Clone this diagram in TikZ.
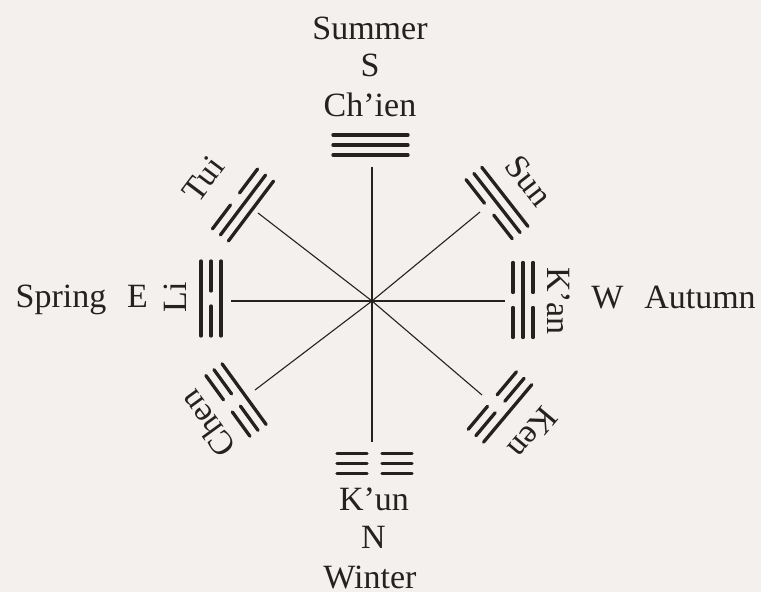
\documentclass[tikz,border=0pt]{standalone}
\usepackage{fontspec}
\setmainfont{Liberation Serif}
\definecolor{ink}{RGB}{38,33,33}
\definecolor{paper}{RGB}{243,240,238}
\tikzset{
  tri/.style={draw=ink, line width=3.3pt, line cap=round},
  spoke/.style={draw=ink, line width=1.1pt},
  lbl/.style={text=ink, font=\fontsize{34}{40}\selectfont, inner sep=0pt}
}
\newcommand\tline[2]{%
  \ifnum#2=1
    \draw[tri] (-37.5,#1) -- (37.5,#1);
  \else
    \draw[tri] (-37.5,#1) -- (-7.5,#1) (7.5,#1) -- (37.5,#1);
  \fi}
\newcommand\trigram[5]{%
  \begin{scope}[shift={#1},rotate=#2]
    \tline{-10}{#3}\tline{0}{#4}\tline{10}{#5}
  \end{scope}}
\begin{document}
\begin{tikzpicture}[x=1pt,y=1pt]
  \fill[paper] (-372,-291) rectangle (389,301);
  \useasboundingbox (-372,-291) rectangle (389,301);
  % centre and spoke ends
  \coordinate (c) at (0,0);
  \coordinate (eS) at (0,134);
  \coordinate (eN) at (0,-141);
  \coordinate (eE) at (-141,0);
  \coordinate (eW) at (133,0);
  \coordinate (eTui) at (-114,88);
  \coordinate (eSun) at (108,89);
  \coordinate (eChen) at (-117,-89);
  \coordinate (eKen) at (110,-94);
  \foreach \e in {eS,eN,eE,eW,eTui,eSun,eChen,eKen}
    \draw[spoke] (c) -- (\e);
  % trigrams (inner line first)
  \trigram{(-1.5,156)}{0}{1}{1}{1}     % Ch'ien
  \trigram{(2.5,-162.5)}{180}{0}{0}{0} % K'un
  \trigram{(-161,2.5)}{90}{1}{0}{1}    % Li
  \trigram{(151,1)}{-90}{0}{1}{0}      % K'an
  \trigram{(-129,96)}{53}{1}{1}{0}     % Tui
  \trigram{(125,98)}{-52}{0}{1}{1}     % Sun
  \trigram{(-136,-99)}{126}{1}{0}{0}   % Chen
  \trigram{(128,-106)}{-130}{0}{0}{1}  % Ken
  % labels
  \node[lbl, anchor=base] (summer) at (-2,261) {Summer};
  \node[lbl, anchor=base] (s) at (-2,224) {S};
  \node[lbl, anchor=base] (chien) at (-2,184) {Ch'ien};
  \node[lbl, anchor=base] (kun) at (2,-209) {K'un};
  \node[lbl, anchor=base] (n) at (1.5,-247) {N};
  \node[lbl, anchor=base] (winter) at (-2,-287) {Winter};
  \node[lbl, anchor=base] (spring) at (-311,-6) {Spring};
  \node[lbl, anchor=base] (e) at (-234.5,-6) {E};
  \node[lbl, anchor=base] (w) at (235.5,-7) {W};
  \node[lbl, anchor=base] (autumn) at (328,-7) {Autumn};
  \node[lbl, rotate=90] (li) at (-197,4) {Li};
  \node[lbl, rotate=-90] (kan) at (187,0) {K'an};
  \node[lbl, rotate=53] (tui) at (-169,122) {Tui};
  \node[lbl, rotate=-52] (sun) at (157,120) {Sun};
  \node[lbl, rotate=126] (chen) at (-165,-123) {Chen};
  \node[lbl, rotate=-130] (ken) at (161,-132) {Ken};
\end{tikzpicture}
\end{document}
